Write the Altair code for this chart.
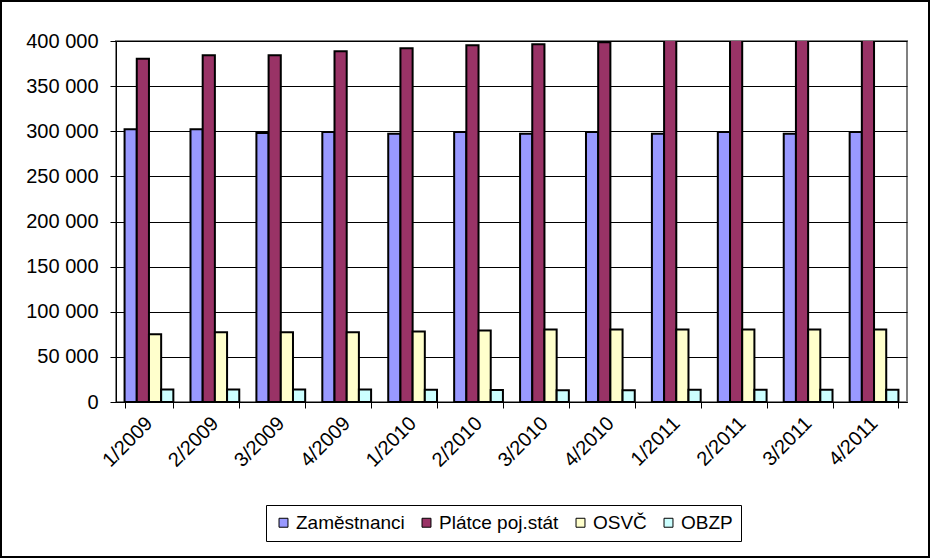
import altair as alt
import pandas as pd

periods = ["1/2009", "2/2009", "3/2009", "4/2009",
           "1/2010", "2/2010", "3/2010", "4/2010",
           "1/2011", "2/2011", "3/2011", "4/2011"]
series = ["Zaměstnanci", "Plátce poj.stát", "OSVČ", "OBZP"]
colors = ["#9999FF", "#993366", "#FFFFCC", "#CCFFFF"]

zamestnanci = [302200, 302200, 298100, 299200, 297300, 299200,
               297300, 299200, 297300, 299200, 297300, 299200]
platce = [380400, 384200, 384200, 388600, 391900, 395300,
          396400, 398600, 401000, 403000, 405000, 407000]
osvc = [75100, 77300, 77300, 77300, 78100, 79200,
        80300, 80300, 80300, 80300, 80300, 80300]
obzp = [13800, 13800, 13800, 13800, 13500, 13200,
        13000, 13000, 13500, 13500, 13500, 13500]

y_ticks = [0, 50000, 100000, 150000, 200000, 250000, 300000, 350000, 400000]

rows = []
for name, vals in zip(series, [zamestnanci, platce, osvc, obzp]):
    for p, v in zip(periods, vals):
        rows.append({"obdobi": p, "serie": name, "pocet": v})
df = pd.DataFrame(rows)

FONT = "Liberation Sans"

bars = alt.Chart(df).mark_bar(stroke="black", strokeWidth=2, clip=True).encode(
    x=alt.X("obdobi:N", sort=periods, title=None,
            scale=alt.Scale(paddingInner=0.26, paddingOuter=0.13),
            axis=alt.Axis(labelAngle=-45, labelAlign="right", labelBaseline="middle",
                          labelFontSize=20, labelFont=FONT, labelColor="black",
                          labelPadding=12, tickBand="extent", tickSize=6,
                          tickColor="black", domainColor="black", grid=False)),
    xOffset=alt.XOffset("serie:N", sort=series,
                        scale=alt.Scale(paddingInner=0, paddingOuter=0)),
    y=alt.Y("pocet:Q", title=None,
            scale=alt.Scale(domain=[0, 400000], nice=False),
            axis=alt.Axis(values=y_ticks, labelFontSize=20, labelFont=FONT,
                          labelColor="black", labelPadding=12, tickSize=6,
                          tickColor="black", domainColor="black",
                          grid=True, gridColor="black", gridWidth=1,
                          labelExpr="replace(format(datum.value, ','), ',', ' ')")),
    color=alt.Color("serie:N", sort=series,
                    scale=alt.Scale(domain=series, range=colors),
                    legend=alt.Legend(title=None, orient="none", direction="horizontal",
                                      legendX=150, legendY=464, columns=4,
                                      labelFontSize=19, labelFont=FONT, labelColor="black",
                                      symbolType="square", symbolSize=80,
                                      symbolStrokeColor="black", symbolStrokeWidth=1,
                                      strokeColor="black", padding=8,
                                      columnPadding=12, labelOffset=3)),
)

frame = alt.Chart(pd.DataFrame({"a": [0]})).mark_rect(
    filled=False, stroke="black", strokeWidth=2).encode(
    x=alt.value(-115), x2=alt.value(813), y=alt.value(-40), y2=alt.value(516)
)

chart = alt.layer(bars, frame).properties(
    width=791, height=361,
    autosize=alt.AutoSizeParams(type="none"),
    padding={"left": 116, "top": 41, "right": 24, "bottom": 157},
    background="white",
).configure_view(stroke="#808080", strokeWidth=2)

chart.save("out.html", embed_options={"renderer": "svg", "actions": False})
